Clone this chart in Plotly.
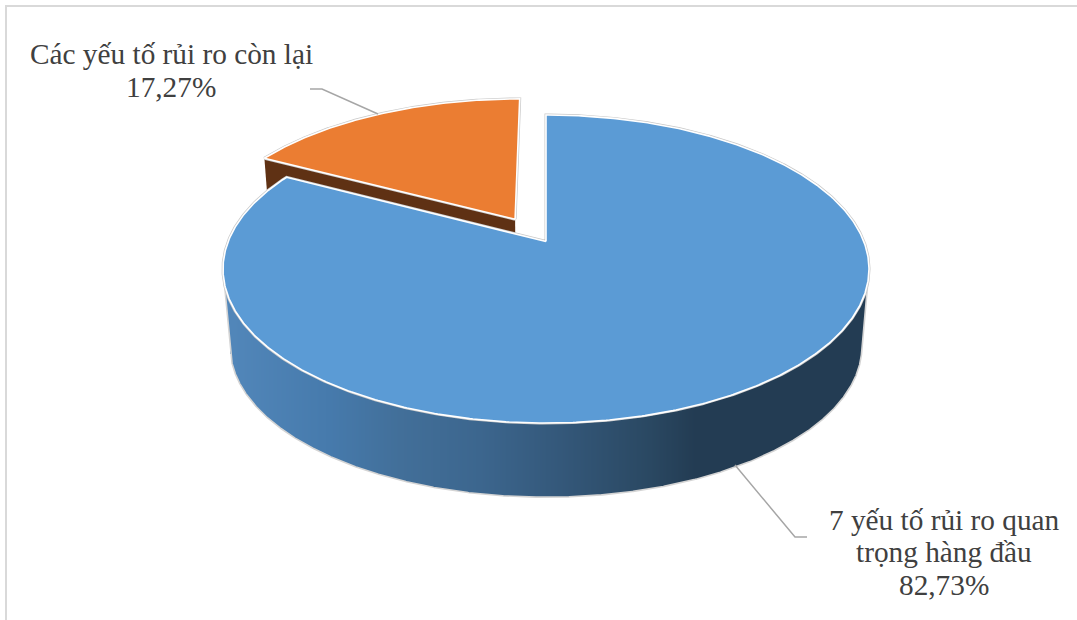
import numpy as np
import plotly.graph_objects as go

# Pie data
label_lines = [["7 yếu tố rủi ro quan", "trọng hàng đầu"], ["Các yếu tố rủi ro còn lại"]]
shares = [82.73, 17.27]
top_colors = ["#5b9bd5", "#eb7d32"]
wall_color = "#5f3114"
text_color = "#404040"
leader_color = "#a6a6a6"
frame_color = "#d9d9d9"

# Projection of the tilted pie onto the page, in page pixels
CX, APEX_Y = 546.0, 241.5
SCALE_X, SCALE_Y, TILT = 317.8, 149.1, 0.1786
EXPLODE, EXPLODE_SKEW = 0.183, 2.0
RIM_CY, BASE_CY, BASE_SCALE = 269.0, 346.6, 0.978

# Side wall gradient stops: page x, then colour
grad_x = [225, 330, 400, 480, 560, 650, 695, 870]
grad_rgb = [(82, 135, 186), (70, 122, 172), (66, 111, 153), (60, 102, 142),
            (52, 88, 122), (42, 72, 98), (35, 60, 83), (35, 60, 83)]


def project(u, v):
    w = 1 + TILT * np.asarray(v)
    return CX + SCALE_X * np.asarray(u) / w, APEX_Y - SCALE_Y * np.asarray(v) / w


def sink(x, y):
    """Drop a point from the top face to the base plane."""
    return CX + (np.asarray(x) - CX) * BASE_SCALE, BASE_CY + (np.asarray(y) - RIM_CY) * BASE_SCALE


def arc(a0, a1, n=240, offset=(0.0, 0.0)):
    t = np.radians(np.linspace(a0, a1, n))
    return project(np.sin(t) + offset[0], np.cos(t) + offset[1])


def gradient(x):
    return "rgb(%d,%d,%d)" % tuple(int(round(np.interp(x, grad_x, [c[i] for c in grad_rgb]))) for i in range(3))


def polygon(x, y, fill, line=None, width=0):
    return go.Scatter(x=list(x), y=list(y), mode="lines", fill="toself", fillcolor=fill,
                      line=dict(color=line or fill, width=width), hoverinfo="skip", showlegend=False)


def stroke(x, y, color, width):
    return go.Scatter(x=list(x), y=list(y), mode="lines", line=dict(color=color, width=width),
                      hoverinfo="skip", showlegend=False)


angle_blue = 360 * shares[0] / sum(shares)
angle_mid = (angle_blue + 360) / 2 - EXPLODE_SKEW
off = (EXPLODE * np.sin(np.radians(angle_mid)), EXPLODE * np.cos(np.radians(angle_mid)))

fig = go.Figure()

# Frame of the chart area; right and bottom edges run off the page
fig.add_trace(stroke([1090, 6, 6], [6, 6, 630], frame_color, 2))

# Blue side wall as one-pixel columns between the rim and the base curve
rim_x, rim_y = arc(0, angle_blue, 2400)
front = rim_y > RIM_CY - 0.5
order = np.argsort(rim_x[front])
fx, fy = rim_x[front][order], rim_y[front][order]
gx, gy = sink(fx, fy)
edge_x = np.r_[fx[0], gx, fx[-1]]
edge_y = np.r_[fy[0], gy, fy[-1]]
columns = np.arange(int(np.ceil(fx[0])), int(np.floor(fx[-1])) + 1) + 0.5
column_top = np.interp(columns, fx, fy)
column_bottom = np.interp(columns, edge_x, edge_y)
fig.add_trace(go.Bar(x=columns, y=column_bottom - column_top, base=column_top, width=1.0,
                     marker=dict(color=[gradient(c) for c in columns], line=dict(width=0)),
                     hoverinfo="skip", showlegend=False))
fig.add_trace(stroke(edge_x, edge_y, "#d4d4d4", 1.6))

# Orange slice: radial wall first, then its top face
ax, ay = project(off[0], off[1])
ox, oy = arc(angle_blue, 360, 120, off)
sx, sy = sink([ax, ox[0]], [ay, oy[0]])
fig.add_trace(polygon([ax, ox[0], sx[1], sx[0]], [ay, oy[0], sy[1], sy[0]], wall_color))
face_x, face_y = np.r_[ax, ox, ax], np.r_[ay, oy, ay]
fig.add_trace(stroke(face_x, face_y, "#c9c9c9", 3))
fig.add_trace(polygon(face_x, face_y, top_colors[1], "#ffffff", 1.6))

# Blue top face
px, py = project(0.0, 0.0)
tx, ty = arc(0, angle_blue, 600)
face_x, face_y = np.r_[px, tx, px], np.r_[py, ty, py]
fig.add_trace(stroke(face_x, face_y, "#c9c9c9", 3))
fig.add_trace(polygon(face_x, face_y, top_colors[0], "#ffffff", 1.6))

# Leader lines
fig.add_trace(stroke([310, 322, 378], [89, 89, 114], leader_color, 1.5))
fig.add_trace(stroke([735, 795, 807], [465, 537, 537], leader_color, 1.5))

# Labels are set line by line to hold the tight leading
placements = [(944, [520, 552, 585]), (171, [54, 87])]
annotations = []
for lines, share, (lx, ys) in zip(label_lines, shares, placements):
    for text, ly in zip(lines + [f"{share:.2f}%".replace(".", ",")], ys):
        annotations.append(dict(x=lx, y=ly, text=text, xref="x", yref="y", showarrow=False,
                                xanchor="center", yanchor="middle",
                                font=dict(family="Liberation Serif", size=29.3, color=text_color)))

fig.update_layout(
    width=1077, height=620, margin=dict(l=0, r=0, t=0, b=0), autosize=False,
    paper_bgcolor="white", plot_bgcolor="white", annotations=annotations, showlegend=False,
    bargap=0,
    xaxis=dict(range=[0, 1077], visible=False, fixedrange=True),
    yaxis=dict(range=[620, 0], visible=False, fixedrange=True),
)
fig.write_html("out.html", config=dict(displayModeBar=False))
